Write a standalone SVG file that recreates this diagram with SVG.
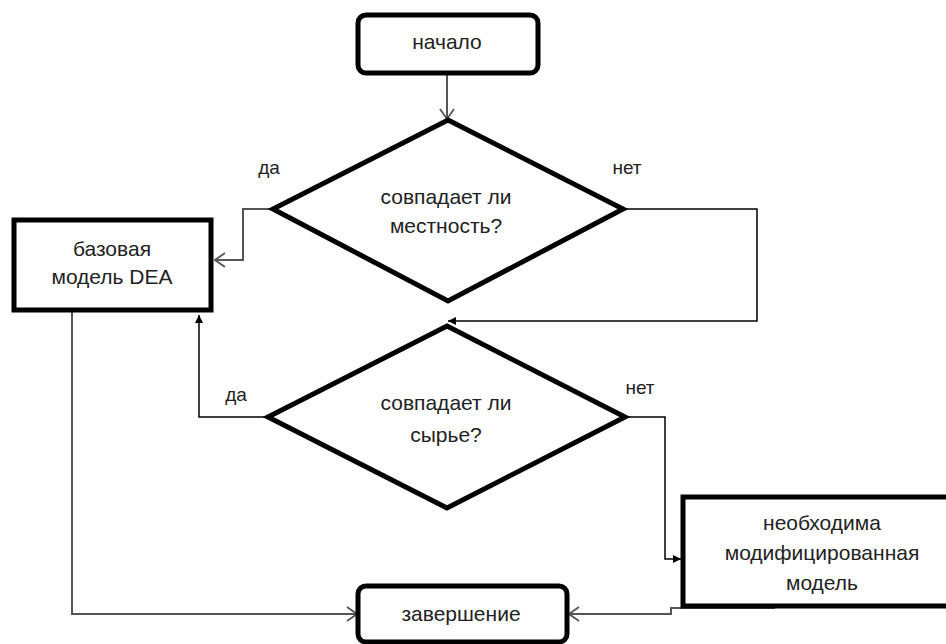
<svg xmlns="http://www.w3.org/2000/svg" width="946" height="644" viewBox="0 0 946 644">
<style>
.shape{fill:#fff;stroke:#000;stroke-width:5}
.t{font-family:"Liberation Sans","Noto Sans",Arial,sans-serif;font-size:21px;fill:#222;text-anchor:middle}
.lbl{font-family:"Liberation Sans","Noto Sans",Arial,sans-serif;font-size:19px;fill:#222;text-anchor:middle}
.cg{fill:none;stroke:#555;stroke-width:2}
.cb{fill:none;stroke:#000;stroke-width:1.5}
</style>
<defs>
<marker id="open" viewBox="0 0 12 16" refX="11" refY="8" markerWidth="12" markerHeight="16" markerUnits="userSpaceOnUse" orient="auto">
<path d="M1,1 L11,8 L1,15" fill="none" stroke="#555" stroke-width="1.8"/>
</marker>
<marker id="fill" viewBox="0 0 8 8" refX="8" refY="4" markerWidth="8" markerHeight="8" markerUnits="userSpaceOnUse" orient="auto">
<path d="M0,0 L8,4 L0,8 z" fill="#000"/>
</marker>
</defs>
<rect width="946" height="644" fill="#fff"/>
<g id="connectors">
<path class="cg" d="M447,73 L447,119" marker-end="url(#open)"/>
<path class="cg" d="M273,209 L243,209 L243,260 L215,260" marker-end="url(#open)"/>
<path class="cb" d="M623,209 L757,209 L757,321 L448,321" marker-end="url(#fill)"/>
<path class="cb" d="M268,417 L199,417 L199,315" marker-end="url(#fill)"/>
<path class="cb" d="M625,417 L665,417 L665,559 L681,559" marker-end="url(#fill)"/>
<path class="cg" d="M72,310 L72,614 L357,614" marker-end="url(#open)"/>
<path class="cg" d="M775,608 L671,608 L671,614 L569,614" marker-end="url(#open)"/>
</g>
<g id="start">
<rect class="shape" x="358" y="15" width="180" height="58" rx="8"/>
<text class="t" x="447" y="49">начало</text>
</g>
<g id="decision1">
<polygon class="shape" points="448,120 623,209 448,301 273,209"/>
<text class="t" x="446" y="204">совпадает ли</text>
<text class="t" x="446" y="233">местность?</text>
</g>
<g id="label-d1-yes"><text class="lbl" x="269" y="174">да</text></g>
<g id="label-d1-no"><text class="lbl" x="627" y="174">нет</text></g>
<g id="base-model">
<rect class="shape" x="14" y="220" width="197" height="90"/>
<text class="t" x="112" y="256">базовая</text>
<text class="t" x="112" y="284">модель DEA</text>
</g>
<g id="decision2">
<polygon class="shape" points="447,326 625,417 447,508 268,417"/>
<text class="t" x="446" y="410">совпадает ли</text>
<text class="t" x="446" y="442">сырье?</text>
</g>
<g id="label-d2-yes"><text class="lbl" x="236" y="401">да</text></g>
<g id="label-d2-no"><text class="lbl" x="640" y="394">нет</text></g>
<g id="modified-model">
<rect class="shape" x="683" y="497" width="280" height="109"/>
<text class="t" x="822" y="530">необходима</text>
<text class="t" x="822" y="560">модифицированная</text>
<text class="t" x="822" y="590">модель</text>
</g>
<g id="end">
<rect class="shape" x="358" y="586" width="209" height="56" rx="8"/>
<text class="t" x="461" y="621">завершение</text>
</g>
</svg>
